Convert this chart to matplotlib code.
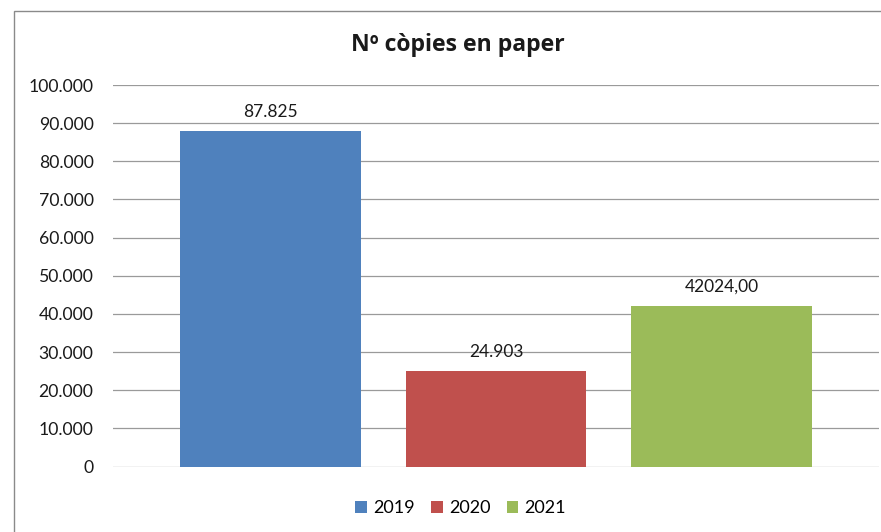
import matplotlib
matplotlib.use("Agg")
import matplotlib.pyplot as plt
from matplotlib.patches import Rectangle, Patch
from matplotlib.ticker import FuncFormatter

plt.rcParams['font.family'] = ['Lato', 'DejaVu Sans']

years = ['2019', '2020', '2021']
values = [87825, 24903, 42024]
labels = ['87.825', '24.903', '42024,00']
colors = ['#4f81bd', '#c0504d', '#9bbb59']
yticks = list(range(0, 100001, 10000))

W, H = 881, 532
fig = plt.figure(figsize=(W / 100, H / 100), dpi=100)
fig.patch.set_facecolor('white')

# outer chart border (cropped at right and bottom)
fig.patches.append(Rectangle((14 / W, -0.1), 1.2, (H - 10.5) / H + 0.1,
                             transform=fig.transFigure, fill=False,
                             edgecolor='#8a8a8a', linewidth=1.0))

ax = fig.add_axes([113 / W, 1 - 466.5 / H, (879 - 113) / W, (466.5 - 85) / H])
x = list(range(len(years)))
bars = ax.bar(x, values, width=0.8, color=colors, zorder=3)
ax.set_xlim(-0.698, 2.698)
ax.set_ylim(0, 100000)
ax.set_yticks(yticks)
ax.yaxis.set_major_formatter(FuncFormatter(lambda v, p: f"{int(v):,}".replace(',', '.')))
ax.set_xticks([])
ax.tick_params(axis='y', length=0, pad=14, labelsize=12.7, labelcolor='#1a1a1a')
for s in ax.spines.values():
    s.set_visible(False)
ax.grid(axis='y', color='#9a9a9a', linewidth=0.9, zorder=0)
ax.set_axisbelow(True)
ax.patch.set_alpha(0)

for xi, v, lab in zip(x, values, labels):
    ax.annotate(lab, (xi, v), xytext=(0, 8), textcoords='offset points',
                ha='center', va='bottom', fontsize=12.5, color='#1a1a1a')

fig.text(457.5 / W, 1 - 45 / H, 'Nº còpies en paper', ha='center', va='center',
         fontsize=16.6, fontweight='bold', color='#1a1a1a',
         family=['Open Sans', 'DejaVu Sans'])

handles = [Patch(facecolor=c, edgecolor='none') for c in colors]
fig.legend(handles, years, loc='center', bbox_to_anchor=(460.5 / W, 1 - 508 / H),
           ncol=3, frameon=False, fontsize=13, handlelength=0.65, handleheight=0.65,
           handletextpad=0.35, columnspacing=0.9)

fig.savefig('out.png', dpi=100, facecolor='white')
